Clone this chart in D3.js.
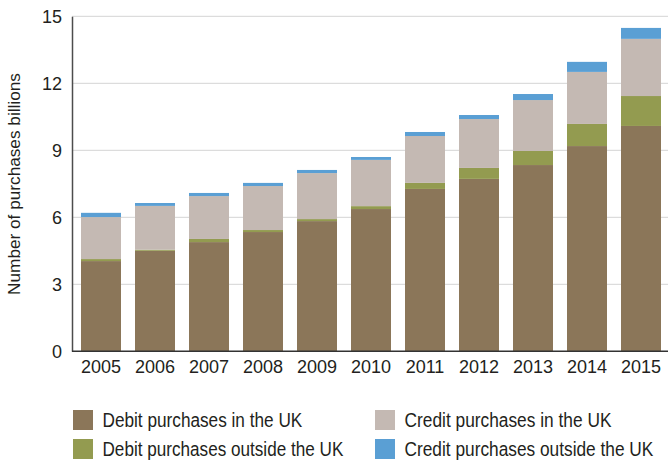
<!DOCTYPE html>
<html>
<head>
<meta charset="utf-8">
<script src="https://cdn.jsdelivr.net/npm/d3@7"></script>
<style>
  body { margin: 0; background: #fff; }
  svg text { font-family: "Liberation Sans", Arial, sans-serif; fill: #231f20; }
</style>
</head>
<body>
<svg id="chart" width="668" height="461"></svg>
<script>
const years = ["2005", "2006", "2007", "2008", "2009", "2010", "2011", "2012", "2013", "2014", "2015"];
const debitUK = [4.04, 4.5, 4.89, 5.34, 5.83, 6.37, 7.27, 7.72, 8.34, 9.19, 10.09];
const debitOutside = [0.09, 0.05, 0.14, 0.09, 0.09, 0.13, 0.27, 0.49, 0.63, 0.99, 1.34];
const creditUK = [1.88, 1.96, 1.92, 1.97, 2.06, 2.07, 2.1, 2.19, 2.28, 2.33, 2.56];
const creditOutside = [0.19, 0.13, 0.14, 0.14, 0.14, 0.13, 0.18, 0.18, 0.27, 0.45, 0.49];
const yTicks = [0, 3, 6, 9, 12, 15];

const seriesInfo = [
  { key: "debitUK", label: "Debit purchases in the UK", color: "#8b7659" },
  { key: "debitOutside", label: "Debit purchases outside the UK", color: "#939b50" },
  { key: "creditUK", label: "Credit purchases in the UK", color: "#c4b9b3" },
  { key: "creditOutside", label: "Credit purchases outside the UK", color: "#5a9fd4" },
];

// table for the stack layout
const table = years.map((y, i) => ({
  year: y,
  debitUK: debitUK[i],
  debitOutside: debitOutside[i],
  creditUK: creditUK[i],
  creditOutside: creditOutside[i],
}));

const svg = d3.select("#chart");
const plotLeft = 72, plotRight = 670, plotTop = 16.3, plotBottom = 351.3;

// squeeze a text horizontally to a target width (the original font is condensed)
function squeeze(sel, width) {
  sel.each(function () {
    const natural = this.getComputedTextLength();
    const w = typeof width === "function" ? width.apply(this, arguments) : width;
    const k = w / natural;
    const prev = d3.select(this).attr("transform") || "";
    d3.select(this).attr("transform", `${prev} scale(${k},1)`);
  });
}

const x = d3.scaleBand()
  .domain(years)
  .range([plotLeft, plotRight])
  .paddingInner(14 / 54)
  .paddingOuter(1 / 6);

const y = d3.scaleLinear().domain([0, 15]).range([plotBottom, plotTop]);

// gridlines
svg.append("g")
  .selectAll("line")
  .data(yTicks.filter(d => d > 0))
  .enter()
  .append("line")
  .attr("x1", plotLeft)
  .attr("x2", 668)
  .attr("y1", d => y(d))
  .attr("y2", d => y(d))
  .attr("stroke", "#d4d4d4")
  .attr("stroke-width", 1);

// stacked bars
const stack = d3.stack().keys(seriesInfo.map(s => s.key));
const layers = stack(table);

svg.append("g")
  .selectAll("g")
  .data(layers)
  .enter()
  .append("g")
  .attr("fill", (d, i) => seriesInfo[i].color)
  .selectAll("rect")
  .data(d => d)
  .enter()
  .append("rect")
  .attr("x", d => x(d.data.year))
  .attr("width", x.bandwidth())
  .attr("y", d => y(d[1]))
  .attr("height", d => y(d[0]) - y(d[1]));

// y axis
const yAxis = svg.append("g")
  .attr("transform", `translate(${plotLeft},0)`)
  .call(d3.axisLeft(y).tickValues(yTicks).tickSize(0).tickPadding(10));
yAxis.select(".domain").attr("stroke", "#4d4d4d").attr("stroke-width", 1.5);
yAxis.selectAll("text").attr("font-size", 18).attr("fill", "#231f20");

// x axis
const xAxis = svg.append("g")
  .attr("transform", `translate(0,${plotBottom})`)
  .call(d3.axisBottom(x).tickSize(0).tickPadding(9));
xAxis.select(".domain").attr("d", `M${plotLeft},0H668`).attr("stroke", "#333").attr("stroke-width", 1.5);
xAxis.selectAll("text").attr("font-size", 18).attr("fill", "#231f20");

// y axis title
svg.append("text")
  .attr("transform", "translate(20,184) rotate(-90)")
  .attr("text-anchor", "middle")
  .attr("font-size", 17)
  .text("Number of purchases billions")
  .call(squeeze, 222);

// legend
const legendPos = [
  { x: 73, y: 410, w: 200 },
  { x: 73, y: 439, w: 241 },
  { x: 375, y: 410, w: 207 },
  { x: 375, y: 439, w: 249 },
];
const legend = svg.append("g")
  .selectAll("g")
  .data(seriesInfo)
  .enter()
  .append("g")
  .attr("transform", (d, i) => `translate(${legendPos[i].x},${legendPos[i].y})`);

legend.append("rect")
  .attr("width", 20)
  .attr("height", 20)
  .attr("fill", d => d.color);

legend.append("text")
  .attr("transform", "translate(29.5,17.2)")
  .attr("font-size", 19.5)
  .text(d => d.label)
  .call(squeeze, (d, i) => legendPos[i].w);
</script>
</body>
</html>
